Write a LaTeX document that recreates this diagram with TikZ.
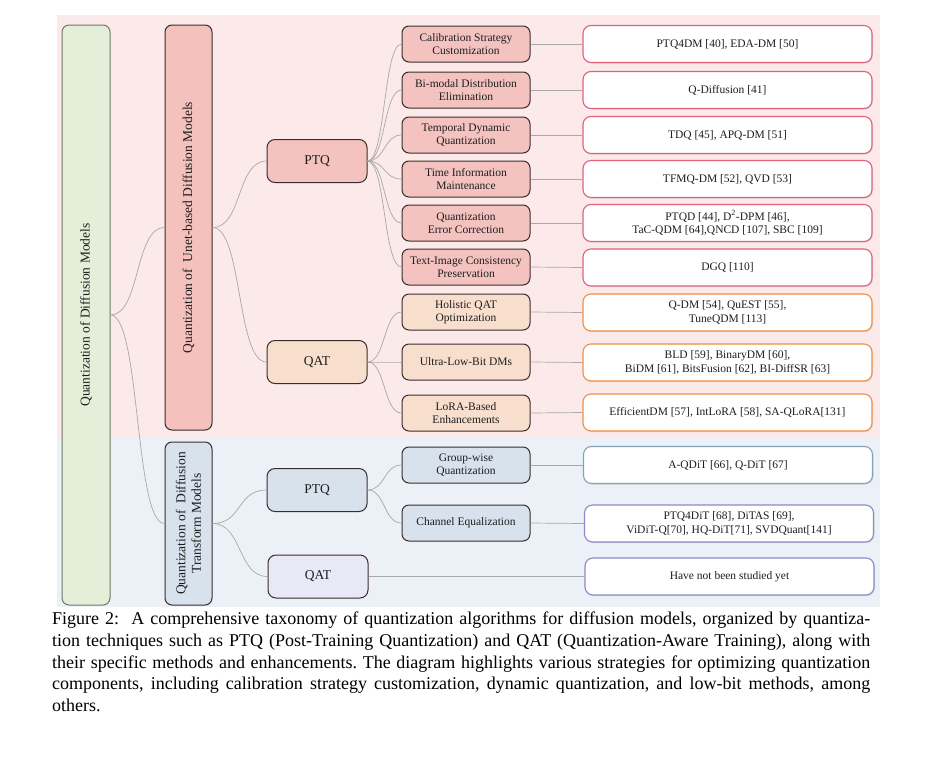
\documentclass[tikz,border=0pt]{standalone}
\usepackage{fontspec}
\setmainfont{Liberation Serif}
\usetikzlibrary{shadows}
\definecolor{bgpink}{HTML}{FCEAEA}
\definecolor{bgblue}{HTML}{EBF1F6}
\definecolor{rootfill}{HTML}{E4EFD9}
\definecolor{rootdraw}{HTML}{6E7A66}
\definecolor{unetfill}{HTML}{F5C1BD}
\definecolor{ptqfill}{HTML}{F4C3C0}
\definecolor{qatfill}{HTML}{F8DECD}
\definecolor{ditfill}{HTML}{D8E2EC}
\definecolor{ditqat}{HTML}{E8E8F6}
\definecolor{darkb}{HTML}{3A2D2D}
\definecolor{leafred}{HTML}{E0607E}
\definecolor{leaforange}{HTML}{EE9040}
\definecolor{leafteal}{HTML}{7FA3B8}
\definecolor{leafblue}{HTML}{8A8ACB}
\definecolor{conncol}{HTML}{A8A8A8}
\definecolor{txt}{HTML}{1E1E1E}
\tikzset{
  box/.style={draw=darkb, line width=1pt, rounded corners=7pt, align=center, inner sep=1pt, text=txt},
  rootbox/.style={box, draw=rootdraw, fill=rootfill, rotate=90, minimum height=48pt, font=\fontsize{13.5}{15.5}\selectfont},
  vbox/.style={box, rotate=90, minimum height=47pt, font=\fontsize{13.5}{15.5}\selectfont},
  lvtwo/.style={box, minimum width=100pt, minimum height=43pt, rounded corners=8pt, font=\fontsize{13.5}{15.5}\selectfont},
  midbox/.style={box, minimum width=128pt, minimum height=36pt, font=\fontsize{11.5}{13.5}\selectfont},
  leafbox/.style={box, fill=white, minimum width=289pt, minimum height=37pt, rounded corners=8pt, line width=1.1pt, font=\fontsize{11.5}{13.5}\selectfont, drop shadow={opacity=0.18, shadow xshift=1pt, shadow yshift=-1.2pt}},
  conn/.style={draw=conncol, line width=0.7pt},
}
\begin{document}
\frenchspacing
\begin{tikzpicture}[x=1pt, y=-1pt]
\useasboundingbox (0,0) rectangle (932,758);
% backgrounds
\fill[bgpink] (57,15) rectangle (880,438);
\fill[bgblue] (57,438) rectangle (880,607);

% root and level-1
\node[rootbox, minimum width=580pt] (root) at (86,315) {Quantization of Diffusion Models};
\node[vbox, fill=unetfill, minimum width=405pt] (unet) at (188.5,227.5) {Quantization of\ \ Unet-based Diffusion Models};
\node[vbox, fill=ditfill, minimum width=163pt] (dit) at (188.5,523.5) {Quantization of\ \ Diffusion\\Transform Models};

% level-2
\node[lvtwo, fill=ptqfill] (uptq) at (317,161) {PTQ};
\node[lvtwo, fill=qatfill] (uqat) at (317,362) {QAT};
\node[lvtwo, fill=ditfill] (dptq) at (317,490) {PTQ};
\node[lvtwo, fill=ditqat] (dqat) at (318,576.5) {QAT};

% mid nodes
\node[midbox, fill=ptqfill] (m1) at (466,44) {Calibration Strategy\\Customization};
\node[midbox, fill=ptqfill] (m2) at (466,90) {Bi-modal Distribution\\Elimination};
\node[midbox, fill=ptqfill] (m3) at (466,135) {Temporal Dynamic\\Quantization};
\node[midbox, fill=ptqfill] (m4) at (466,179) {Time Information\\Maintenance};
\node[midbox, fill=ptqfill] (m5) at (466,223) {Quantization\\Error Correction};
\node[midbox, fill=ptqfill] (m6) at (466,267) {Text-Image Consistency\\Preservation};
\node[midbox, fill=qatfill] (m7) at (466,312) {Holistic QAT\\Optimization};
\node[midbox, fill=qatfill] (m8) at (466,362) {Ultra-Low-Bit DMs};
\node[midbox, fill=qatfill] (m9) at (466,413) {LoRA-Based\\Enhancements};
\node[midbox, fill=ditfill] (m10) at (466,465) {Group-wise\\Quantization};
\node[midbox, fill=ditfill] (m11) at (466,523) {Channel Equalization};

% leaves
\node[leafbox, draw=leafred] (l1) at (727.5,44) {PTQ4DM [40], EDA-DM [50]};
\node[leafbox, draw=leafred] (l2) at (727.5,90) {Q-Diffusion [41]};
\node[leafbox, draw=leafred] (l3) at (727.5,135) {TDQ [45], APQ-DM [51]};
\node[leafbox, draw=leafred] (l4) at (727.5,179) {TFMQ-DM [52], QVD [53]};
\node[leafbox, draw=leafred] (l5) at (727.5,223) {PTQD [44], D\textsuperscript{2}-DPM [46],\\TaC-QDM [64],QNCD [107], SBC [109]};
\node[leafbox, draw=leafred] (l6) at (727.5,267.5) {DGQ [110]};
\node[leafbox, draw=leaforange] (l7) at (727.5,312.5) {Q-DM [54], QuEST [55],\\TuneQDM [113]};
\node[leafbox, draw=leaforange] (l8) at (727.5,362.5) {BLD [59], BinaryDM [60],\\BiDM [61], BitsFusion [62], BI-DiffSR [63]};
\node[leafbox, draw=leaforange] (l9) at (727.5,412.5) {EfficientDM [57], IntLoRA [58], SA-QLoRA[131]};
\node[leafbox, draw=leafteal] (l10) at (728,465) {A-QDiT [66], Q-DiT [67]};
\node[leafbox, draw=leafblue] (l11) at (729,523.5) {PTQ4DiT [68], DiTAS [69],\\ViDiT-Q[70], HQ-DiT[71], SVDQuant[141]};
\node[leafbox, draw=leafblue] (l12) at (729.5,576.5) {Have not been studied yet};

% connectors root -> level1
\draw[conn] (root.south) .. controls +(30,0) and +(-30,0) .. (unet.north);
\draw[conn] (root.south) .. controls +(30,0) and +(-30,0) .. (dit.north);
% level1 -> level2
\draw[conn] (unet.south) .. controls +(30,0) and +(-30,0) .. (uptq.west);
\draw[conn] (unet.south) .. controls +(30,0) and +(-30,0) .. (uqat.west);
\draw[conn] (dit.south) .. controls +(30,0) and +(-30,0) .. (dptq.west);
\draw[conn] (dit.south) .. controls +(30,0) and +(-30,0) .. (dqat.west);
% level2 -> mid
\foreach \m in {m1,m2,m3,m4,m5,m6}
  \draw[conn] (uptq.east) .. controls +(18,0) and +(-18,0) .. (\m.west);
\foreach \m in {m7,m8,m9}
  \draw[conn] (uqat.east) .. controls +(18,0) and +(-18,0) .. (\m.west);
\foreach \m in {m10,m11}
  \draw[conn] (dptq.east) .. controls +(18,0) and +(-18,0) .. (\m.west);
% mid -> leaves
\foreach \i in {1,...,11}
  \draw[conn] (m\i.east) -- (l\i.west);
\draw[conn] (dqat.east) -- (l12.west);

% caption
\node[anchor=north west, inner sep=0pt, text width=818pt, align=justify, text=black,
  font=\fontsize{18}{21.6}\selectfont] (cap) at (52,612)
{Figure 2:\ \ A comprehensive taxonomy of quantization algorithms for diffusion models, organized by quantiza-\linebreak tion techniques such as PTQ (Post-Training Quantization) and QAT (Quantization-Aware Training), along with\linebreak their specific methods and enhancements. The diagram highlights various strategies for optimizing quantization\linebreak components, including calibration strategy customization, dynamic quantization, and low-bit methods, among\linebreak others.};
\end{tikzpicture}
\end{document}
